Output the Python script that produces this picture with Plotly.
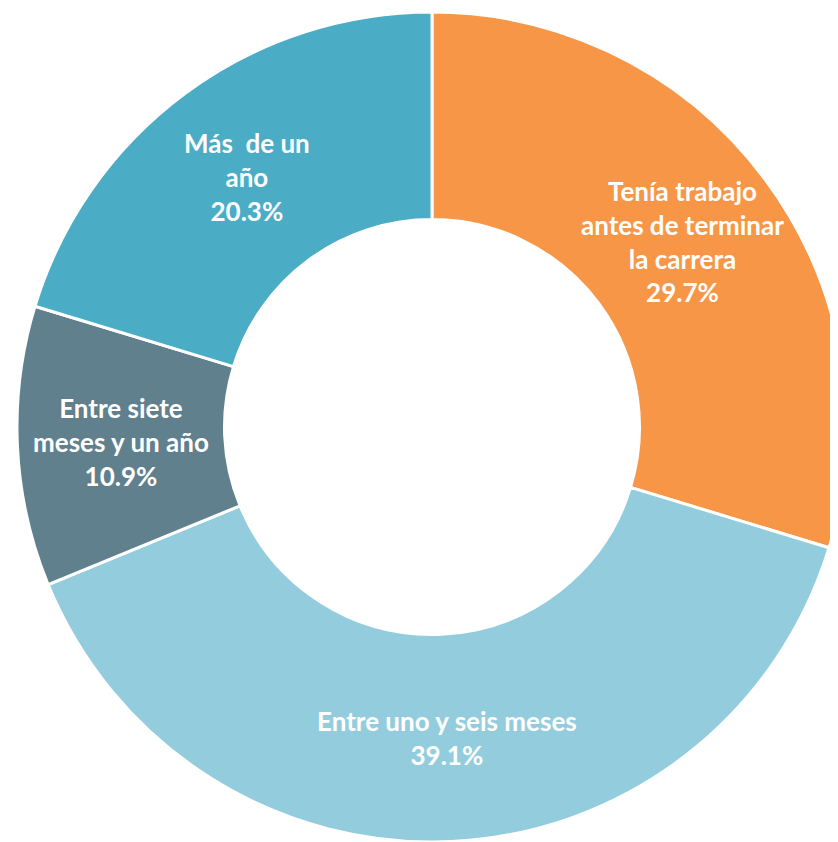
import math
import plotly.graph_objects as go

labels = ["Tenía trabajo<br>antes de terminar<br>la carrera",
          "Entre uno y seis meses",
          "Entre siete<br>meses y un año",
          "Más  de un<br>año"]
values = [29.7, 39.1, 10.9, 20.3]
colors = ["#F79646", "#93CDDD", "#5F808C", "#4BACC6"]

W, H = 850, 850
OFF = 8          # default body margin of the html page
CX, CY, R = 432 - OFF, 427 - OFF, 415
HOLE = 0.5
LABEL_R = 0.75   # labels sit in the middle of the ring

fig = go.Figure(go.Pie(
    labels=labels, values=values, hole=HOLE, sort=False, direction="clockwise",
    rotation=0,
    marker=dict(colors=colors, line=dict(color="white", width=3)),
    textinfo="none",
    hoverinfo="label+value",
    domain=dict(x=[(CX - R) / W, (CX + R) / W],
                y=[(H - CY - R) / H, (H - CY + R) / H]),
))

total = sum(values)
cum = 0.0
for lab, v in zip(labels, values):
    mid = (cum + v / 2) / total * 2 * math.pi
    cum += v
    px = CX + LABEL_R * R * math.sin(mid)
    py = CY - LABEL_R * R * math.cos(mid)
    fig.add_annotation(
        x=px / W, y=1 - py / H, xref="paper", yref="paper",
        text=f"{lab}<br>{v:.1f}%", showarrow=False,
        xanchor="center", yanchor="middle", align="center",
        font=dict(family="Lato", size=26, color="white", weight="bold"),
    )

fig.update_layout(width=W, height=H, margin=dict(l=0, r=0, t=0, b=0),
                  showlegend=False, paper_bgcolor="white")
fig.write_html("out.html")
